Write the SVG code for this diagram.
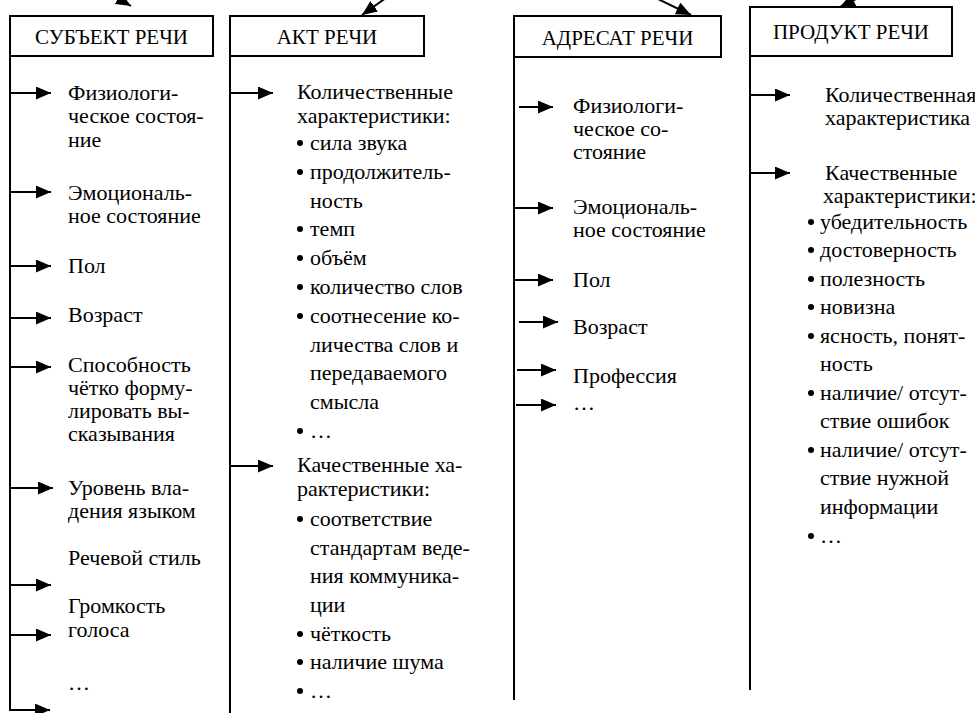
<svg xmlns="http://www.w3.org/2000/svg" width="975" height="713" viewBox="0 0 975 713">
<style>
  .t { font-family: "Liberation Serif", "Times New Roman", serif; font-size: 22px; fill: #000; }
  .hd { font-family: "Liberation Serif", "Times New Roman", serif; font-size: 21px; fill: #000; text-anchor: middle; }
  .box { fill: #fff; stroke: #000; stroke-width: 2; }
  .ln { stroke: #000; stroke-width: 2; fill: none; }
  .ar { stroke: #000; stroke-width: 2; fill: none; marker-end: url(#ah); }
  .b { fill: #000; }
</style>
<defs>
  <marker id="ah" viewBox="0 0 15 13" refX="15" refY="6.5" markerWidth="15" markerHeight="13" markerUnits="userSpaceOnUse" orient="auto">
    <path d="M0,0 L15,6.5 L0,13 z" fill="#000"/>
  </marker>
</defs>
<rect width="975" height="713" fill="#fff"/>

<g id="connectors">
  <line class="ar" x1="95" y1="-15" x2="131" y2="6"/>
  <line class="ar" x1="404" y1="-15" x2="362" y2="15"/>
  <line class="ar" x1="629" y1="-15" x2="691" y2="15"/>
  <line class="ar" x1="880" y1="-13" x2="840" y2="7"/>
  <line class="ln" x1="10" y1="56" x2="10" y2="711"/>
  <line class="ln" x1="230" y1="56" x2="230" y2="713"/>
  <line class="ln" x1="514" y1="56" x2="514" y2="700"/>
  <line class="ln" x1="750" y1="56" x2="750" y2="690"/>
  <line class="ar" x1="10" y1="93" x2="51" y2="93"/>
  <line class="ar" x1="10" y1="192" x2="51" y2="192"/>
  <line class="ar" x1="10" y1="266" x2="51" y2="266"/>
  <line class="ar" x1="10" y1="318" x2="51" y2="318"/>
  <line class="ar" x1="10" y1="367" x2="51" y2="367"/>
  <line class="ar" x1="10" y1="488" x2="53" y2="488"/>
  <line class="ar" x1="10" y1="585" x2="51" y2="585"/>
  <line class="ar" x1="10" y1="635" x2="51" y2="635"/>
  <line class="ar" x1="9" y1="710" x2="50" y2="710"/>
  <line class="ar" x1="230" y1="93" x2="273" y2="93"/>
  <line class="ar" x1="230" y1="466" x2="273" y2="466"/>
  <line class="ar" x1="519" y1="107" x2="553" y2="107"/>
  <line class="ar" x1="513" y1="208" x2="553" y2="208"/>
  <line class="ar" x1="513" y1="280" x2="553" y2="280"/>
  <line class="ar" x1="519" y1="322" x2="558" y2="322"/>
  <line class="ar" x1="517" y1="370" x2="556" y2="370"/>
  <line class="ar" x1="516" y1="405" x2="556" y2="405"/>
  <line class="ar" x1="750" y1="95" x2="790" y2="95"/>
  <line class="ar" x1="750" y1="173" x2="790" y2="173"/>
</g>

<g id="subject">
  <rect class="box" x="10" y="16" width="203" height="40"/>
  <text class="hd" x="111.5" y="44">СУБЪЕКТ РЕЧИ</text>
</g>
<g id="act">
  <rect class="box" x="230" y="16" width="194" height="40"/>
  <text class="hd" x="327" y="44">АКТ РЕЧИ</text>
</g>
<g id="addressee">
  <rect class="box" x="514" y="16" width="207" height="41"/>
  <text class="hd" x="617.5" y="45">АДРЕСАТ РЕЧИ</text>
</g>
<g id="product">
  <rect class="box" x="750" y="7" width="202" height="49"/>
  <text class="hd" x="851" y="39">ПРОДУКТ РЕЧИ</text>
</g>

<g id="subject-items">
  <text class="t" x="68" y="100">Физиологи-</text>
  <text class="t" x="68" y="123">ческое состоя-</text>
  <text class="t" x="68" y="147">ние</text>
  <text class="t" x="68" y="200">Эмоциональ-</text>
  <text class="t" x="68" y="223">ное состояние</text>
  <text class="t" x="68" y="273">Пол</text>
  <text class="t" x="68" y="322">Возраст</text>
  <text class="t" x="68" y="372">Способность</text>
  <text class="t" x="68" y="395">чётко форму-</text>
  <text class="t" x="68" y="418">лировать вы-</text>
  <text class="t" x="68" y="441">сказывания</text>
  <text class="t" x="68" y="495">Уровень вла-</text>
  <text class="t" x="68" y="518">дения языком</text>
  <text class="t" x="68" y="565">Речевой стиль</text>
  <text class="t" x="68" y="613">Громкость</text>
  <text class="t" x="68" y="637">голоса</text>
  <text class="t" x="68" y="690">…</text>
</g>

<g id="act-items">
  <text class="t" x="297" y="99">Количественные</text>
  <text class="t" x="297" y="123">характеристики:</text>
  <circle class="b" cx="300" cy="143" r="3"/><text class="t" x="310" y="150">сила звука</text>
  <circle class="b" cx="300" cy="172" r="3"/><text class="t" x="310" y="179">продолжитель-</text>
  <text class="t" x="310" y="208">ность</text>
  <circle class="b" cx="300" cy="229" r="3"/><text class="t" x="310" y="236">темп</text>
  <circle class="b" cx="300" cy="258" r="3"/><text class="t" x="310" y="265">объём</text>
  <circle class="b" cx="300" cy="287" r="3"/><text class="t" x="310" y="294">количество слов</text>
  <circle class="b" cx="300" cy="316" r="3"/><text class="t" x="310" y="323">соотнесение ко-</text>
  <text class="t" x="310" y="352">личества слов и</text>
  <text class="t" x="310" y="380">передаваемого</text>
  <text class="t" x="310" y="409">смысла</text>
  <circle class="b" cx="300" cy="431" r="3"/><text class="t" x="310" y="438">…</text>
  <text class="t" x="297" y="472">Качественные ха-</text>
  <text class="t" x="297" y="496">рактеристики:</text>
  <circle class="b" cx="300" cy="519" r="3"/><text class="t" x="310" y="526">соответствие</text>
  <text class="t" x="310" y="555">стандартам веде-</text>
  <text class="t" x="310" y="583">ния коммуника-</text>
  <text class="t" x="310" y="612">ции</text>
  <circle class="b" cx="300" cy="634" r="3"/><text class="t" x="310" y="641">чёткость</text>
  <circle class="b" cx="300" cy="662" r="3"/><text class="t" x="310" y="669">наличие шума</text>
  <circle class="b" cx="300" cy="691" r="3"/><text class="t" x="310" y="698">…</text>
</g>

<g id="addressee-items">
  <text class="t" x="573" y="113">Физиологи-</text>
  <text class="t" x="573" y="136">ческое со-</text>
  <text class="t" x="573" y="159">стояние</text>
  <text class="t" x="573" y="214">Эмоциональ-</text>
  <text class="t" x="573" y="237">ное состояние</text>
  <text class="t" x="573" y="287">Пол</text>
  <text class="t" x="573" y="334">Возраст</text>
  <text class="t" x="573" y="383">Профессия</text>
  <text class="t" x="573" y="410">…</text>
</g>

<g id="product-items">
  <text class="t" x="825" y="102">Количественная</text>
  <text class="t" x="825" y="125">характеристика</text>
  <text class="t" x="825" y="180">Качественные</text>
  <text class="t" x="823" y="203">характеристики:</text>
  <circle class="b" cx="811" cy="222" r="3"/><text class="t" x="820" y="229">убедительность</text>
  <circle class="b" cx="811" cy="250" r="3"/><text class="t" x="820" y="257">достоверность</text>
  <circle class="b" cx="811" cy="279" r="3"/><text class="t" x="820" y="286">полезность</text>
  <circle class="b" cx="811" cy="307" r="3"/><text class="t" x="820" y="314">новизна</text>
  <circle class="b" cx="811" cy="336" r="3"/><text class="t" x="820" y="343">ясность, понят-</text>
  <text class="t" x="820" y="371">ность</text>
  <circle class="b" cx="811" cy="393" r="3"/><text class="t" x="820" y="400">наличие/ отсут-</text>
  <text class="t" x="820" y="428">ствие ошибок</text>
  <circle class="b" cx="811" cy="450" r="3"/><text class="t" x="820" y="457">наличие/ отсут-</text>
  <text class="t" x="820" y="485">ствие нужной</text>
  <text class="t" x="820" y="514">информации</text>
  <circle class="b" cx="811" cy="536" r="3"/><text class="t" x="820" y="543">…</text>
</g>
</svg>
